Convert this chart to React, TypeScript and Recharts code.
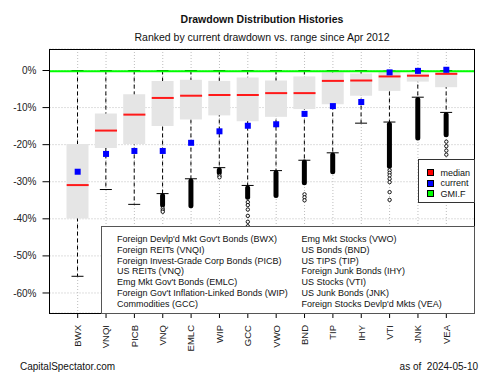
import React from "react";
import { ComposedChart, Bar, Scatter, XAxis, YAxis, CartesianGrid, ReferenceLine } from "recharts";

const tickers = ["BWX", "VNQI", "PICB", "VNQ", "EMLC", "WIP", "GCC", "VWO", "BND", "TIP", "IHY", "VTI", "JNK", "VEA"];
const fundNames = [
  "Foreign Devlp'd Mkt Gov't Bonds (BWX)",
  "Foreign REITs (VNQI)",
  "Foreign Invest-Grade Corp Bonds (PICB)",
  "US REITs (VNQ)",
  "Emg Mkt Gov't Bonds (EMLC)",
  "Foreign Gov't Inflation-Linked Bonds (WIP)",
  "Commodities (GCC)",
  "Emg Mkt Stocks (VWO)",
  "US Bonds (BND)",
  "US TIPS (TIP)",
  "Foreign Junk Bonds (IHY)",
  "US Stocks (VTI)",
  "US Junk Bonds (JNK)",
  "Foreign Stocks Devlp'd Mkts (VEA)",
];

// drawdown stats in %
const whiskerHigh = [0, 0, 0, 0, 0, 0, 0, 0, 0, 0, 0, 0, 0, 0];
const whiskerLow = [-55.5, -32.1, -36.1, -33.2, -29.2, -26.2, -31.0, -27.0, -24.2, -22.2, -14.2, -13.9, -7.2, -11.3];
const boxHigh = [-19.8, -11.6, -6.4, -2.8, -2.5, -2.8, -1.9, -2.7, -1.6, -0.5, -0.8, 0.0, -0.8, -0.5];
const boxLow = [-39.9, -20.9, -19.8, -15.0, -13.2, -12.1, -13.7, -12.5, -10.4, -9.1, -6.8, -5.5, -3.0, -4.5];
const medians = [-30.9, -16.2, -11.9, -7.4, -6.8, -6.6, -6.6, -6.1, -6.1, -2.8, -2.7, -1.6, -1.4, -0.9];
const currentDD = [-27.3, -22.5, -21.7, -21.7, -19.5, -16.4, -14.9, -14.5, -11.7, -9.6, -8.5, -0.5, -0.1, 0.2];
const gmifCurrent = -0.2;

// outliers: dense runs and single points
const denseTop = [null, null, null, -33.4, -29.4, -26.4, -31.3, -27.2, -24.3, -22.4, null, -14.1, -7.4, -11.5];
const denseBottom = [null, null, null, -36.7, -36.9, -28.0, -34.6, -34.1, -30.7, -27.7, null, -26.2, -18.6, -17.7];
const singleOutliers: [string, number][] = [
  ["VNQ", -37.2], ["VNQ", -37.7], ["VNQ", -38.1],
  ["WIP", -28.4], ["WIP", -28.8],
  ["GCC", -35.5], ["GCC", -36.3], ["GCC", -37.5], ["GCC", -39.2], ["GCC", -40.8], ["GCC", -42.0],
  ["BND", -33.4], ["BND", -34.2], ["BND", -35.0],
  ["VTI", -26.9], ["VTI", -27.6], ["VTI", -28.3], ["VTI", -29.2], ["VTI", -30.1], ["VTI", -32.8], ["VTI", -34.9],
  ["VEA", -19.2], ["VEA", -20.4], ["VEA", -21.6], ["VEA", -22.7],
];

const yTicks = [0, -10, -20, -30, -40, -50, -60];

const rows = tickers.map((t, i) => ({
  ticker: t,
  whisker: [whiskerLow[i], whiskerHigh[i]],
  box: [boxLow[i], boxHigh[i]],
  dense: denseTop[i] === null ? null : [denseBottom[i], denseTop[i]],
  median: medians[i],
  current: currentDD[i],
}));
const outlierRows = singleOutliers.map(([t, v]) => ({ ticker: t, v }));

const FONT = "'Liberation Sans', Arial, sans-serif";
const BOX_W = 22;

const WhiskerShape = (p: any) => {
  const cx = p.x + p.width / 2;
  const y1 = Math.min(p.y, p.y + p.height);
  const y2 = Math.max(p.y, p.y + p.height);
  return (
    <g>
      <line x1={cx} x2={cx} y1={y1} y2={y2} stroke="#000" strokeDasharray="4 3" />
      <line x1={cx - 6} x2={cx + 6} y1={y1} y2={y1} stroke="#000" />
      <line x1={cx - 6} x2={cx + 6} y1={y2} y2={y2} stroke="#000" />
    </g>
  );
};

const DenseShape = (p: any) => {
  if (!p.payload || !p.payload.dense) return null;
  const cx = p.x + p.width / 2;
  const y1 = Math.min(p.y, p.y + p.height);
  const h = Math.abs(p.height);
  return <rect x={cx - 2.5} y={y1 - 1} width={5} height={h + 2} rx={2.5} fill="#000" />;
};

const MedianShape = (p: any) => (
  <line x1={p.cx - BOX_W / 2} x2={p.cx + BOX_W / 2} y1={p.cy} y2={p.cy} stroke="#ff1a1a" strokeWidth={2} />
);

const CurrentShape = (p: any) => <rect x={p.cx - 3} y={p.cy - 3} width={6} height={6} fill="#0000ff" />;

const OutlierShape = (p: any) => <circle cx={p.cx} cy={p.cy} r={1.7} fill="#fff" stroke="#000" strokeWidth={0.9} />;

const XTick = (p: any) => (
  <text
    transform={`translate(${p.x},${p.y}) rotate(-90)`}
    textAnchor="end"
    dy="0.35em"
    fontSize={9.5}
    fontFamily={FONT}
    fill="#222"
  >
    {p.payload.value}
  </text>
);

export default function App() {
  const legendItems = [
    { label: "median", color: "#ff0000" },
    { label: "current", color: "#0000ff" },
    { label: "GMI.F", color: "#00ff00" },
  ];
  return (
    <div style={{ position: "fixed", left: 0, top: 0, width: 500, height: 375, background: "#fff", fontFamily: FONT }}>
      <div style={{ position: "absolute", left: 62, width: 400, top: 13, textAlign: "center", fontSize: 10.5, fontWeight: "bold", color: "#111" }}>
        Drawdown Distribution Histories
      </div>
      <div style={{ position: "absolute", left: 62, width: 400, top: 31, textAlign: "center", fontSize: 10.5, color: "#111" }}>
        Ranked by current drawdown vs. range since Apr 2012
      </div>

      <ComposedChart
        width={500}
        height={375}
        data={rows}
        margin={{ top: 49, right: 25.5, bottom: 0, left: 0 }}
        barGap={-BOX_W}
        style={{ position: "absolute", left: 0, top: 0 }}
      >
        <CartesianGrid stroke="#bdbdbd" strokeDasharray="1 2" />
        <XAxis
          dataKey="ticker"
          type="category"
          allowDuplicatedCategory={false}
          padding={{ left: 14, right: 14 }}
          height={62}
          axisLine={false}
          tickLine={{ stroke: "#000" }}
          tickSize={5}
          tickMargin={7}
          interval={0}
          tick={<XTick />}
        />
        <YAxis
          type="number"
          domain={[-65.4, 5.8]}
          allowDataOverflow
          ticks={yTicks}
          tickFormatter={(v: number) => `${v}%`}
          width={49.5}
          axisLine={false}
          tickLine={{ stroke: "#000" }}
          tickSize={7}
          tickMargin={6}
          tick={{ fontSize: 10, fill: "#222", fontFamily: FONT }}
        />
        <Bar dataKey="whisker" barSize={BOX_W} shape={<WhiskerShape />} isAnimationActive={false} />
        <Bar dataKey="dense" barSize={BOX_W} shape={<DenseShape />} isAnimationActive={false} />
        <Bar dataKey="box" barSize={BOX_W} fill="#e5e5e5" isAnimationActive={false} />
        <Scatter data={outlierRows} dataKey="v" shape={<OutlierShape />} isAnimationActive={false} />
        <ReferenceLine y={gmifCurrent} stroke="#00ff00" strokeWidth={2} />
        <Scatter dataKey="median" shape={<MedianShape />} isAnimationActive={false} />
        <Scatter dataKey="current" shape={<CurrentShape />} isAnimationActive={false} />
      </ComposedChart>

      {/* plot frame */}
      <div style={{ position: "absolute", left: 49, top: 49, width: 426, height: 265, border: "1px solid #000", boxSizing: "border-box", pointerEvents: "none" }} />

      {/* fund name box */}
      <div style={{ position: "absolute", left: 101, top: 226, width: 374, height: 88, border: "1px solid #555", boxSizing: "border-box", background: "#fff", fontSize: 9, color: "#111" }}>
        <div style={{ position: "absolute", left: 15, top: 7, lineHeight: "10.8px", whiteSpace: "nowrap" }}>
          {fundNames.slice(0, 7).map((n) => <div key={n}>{n}</div>)}
        </div>
        <div style={{ position: "absolute", left: 199.5, top: 7, lineHeight: "10.8px", whiteSpace: "nowrap" }}>
          {fundNames.slice(7).map((n) => <div key={n}>{n}</div>)}
        </div>
      </div>

      {/* marker legend */}
      <div style={{ position: "absolute", left: 418, top: 159, width: 57, height: 44, border: "1px solid #333", boxSizing: "border-box", background: "#fff", fontSize: 9, color: "#111" }}>
        {legendItems.map((it, i) => (
          <div key={it.label} style={{ position: "absolute", left: 7.5, top: 7.5 + i * 10.7, height: 10, display: "flex", alignItems: "center", whiteSpace: "nowrap" }}>
            <span style={{ display: "inline-block", width: 7, height: 7, background: it.color, border: "1px solid #000", boxSizing: "border-box", marginRight: 7 }} />
            {it.label}
          </div>
        ))}
      </div>

      <div style={{ position: "absolute", left: 20, top: 361, fontSize: 10, color: "#111" }}>CapitalSpectator.com</div>
      <div style={{ position: "absolute", right: 22, top: 361, fontSize: 10, color: "#111", whiteSpace: "pre" }}>as of  2024-05-10</div>
    </div>
  );
}
